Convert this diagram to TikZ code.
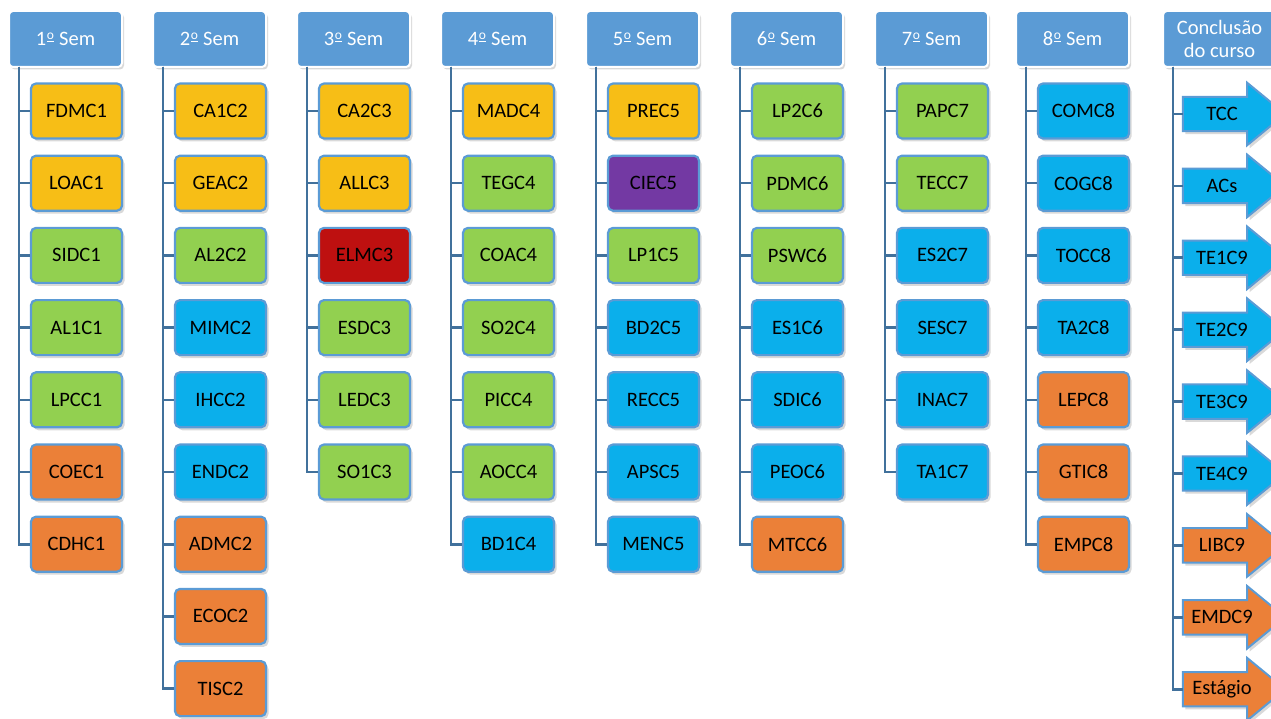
\documentclass[tikz,border=0pt]{standalone}
\usepackage{fontspec}
\setmainfont{Carlito}
\usetikzlibrary{shadows,calc}
\definecolor{hdrblue}{HTML}{5B9BD5}
\definecolor{bordblue}{HTML}{5B9BD5}
\definecolor{connblue}{HTML}{41719C}
\definecolor{cyel}{HTML}{F7BE16}
\definecolor{cgrn}{HTML}{92D050}
\definecolor{cblu}{HTML}{0BAFEB}
\definecolor{cora}{HTML}{EB8038}
\definecolor{cpur}{HTML}{7339A3}
\definecolor{cred}{HTML}{BE1010}
\newcommand\ordm{\hspace{0.6pt}\raisebox{6.2pt}{\fontsize{13.5}{13.5}\selectfont\underline{o}}\hspace{0.6pt}}
\newcommand\semcol[4]{%
  \node[hdr] (h#1) at (#2+56.5,39) {#3};
  \coordinate (t#1) at (#2+10,67);
  \foreach \nm/\st [count=\i from 0] in {#4} {%
    \node[style=\st] (c#1-\i) at (#2+21+46.5,111+72.2*\i) {\nm};
    \draw[conn] (t#1) |- (c#1-\i.west);
  }%
}
\begin{document}
\begin{tikzpicture}[x=1pt,y=-1pt,
  hdr/.style={draw=white, line width=2pt, fill=hdrblue, rounded corners=4pt,
    minimum width=113pt, minimum height=56pt, inner sep=0pt, text=white,
    font=\fontsize{20.5}{23}\selectfont, align=center,
    drop shadow={opacity=0.3,shadow xshift=2pt,shadow yshift=-2.5pt}},
  course/.style={draw=bordblue, line width=2.2pt, rounded corners=5pt,
    minimum width=91pt, minimum height=55pt, inner sep=0pt,
    font=\fontsize{20.5}{24}\selectfont,
    drop shadow={opacity=0.3,shadow xshift=2.5pt,shadow yshift=-3pt}},
  yel/.style={course, fill=cyel},
  grn/.style={course, fill=cgrn},
  blu/.style={course, fill=cblu},
  ora/.style={course, fill=cora},
  pur/.style={course, fill=cpur},
  red/.style={course, fill=cred},
  conn/.style={draw=connblue, line width=2.6pt},
  abody/.style={minimum width=64pt, minimum height=34pt, inner sep=0pt},
  arrowsty/.style={draw=bordblue, line width=2pt,
    drop shadow={opacity=0.3,shadow xshift=2.5pt,shadow yshift=-3pt}},
  ablu/.style={arrowsty, fill=cblu},
  aora/.style={arrowsty, fill=cora},
  alabel/.style={font=\fontsize{20.5}{24}\selectfont, inner sep=0pt}
]
\useasboundingbox (0,0) rectangle (1271,719);
\clip (0,0) rectangle (1271,719);

\semcol{1}{9}{1\ordm{} Sem}{FDMC1/yel,LOAC1/yel,SIDC1/grn,AL1C1/grn,LPCC1/grn,COEC1/ora,CDHC1/ora}
\semcol{2}{153}{2\ordm{} Sem}{CA1C2/yel,GEAC2/yel,AL2C2/grn,MIMC2/blu,IHCC2/blu,ENDC2/blu,ADMC2/ora,ECOC2/ora,TISC2/ora}
\semcol{3}{297}{3\ordm{} Sem}{CA2C3/yel,ALLC3/yel,ELMC3/red,ESDC3/grn,LEDC3/grn,SO1C3/grn}
\semcol{4}{441}{4\ordm{} Sem}{MADC4/yel,TEGC4/grn,COAC4/grn,SO2C4/grn,PICC4/grn,AOCC4/grn,BD1C4/blu}
\semcol{5}{586}{5\ordm{} Sem}{PREC5/yel,CIEC5/pur,LP1C5/grn,BD2C5/blu,RECC5/blu,APSC5/blu,MENC5/blu}
\semcol{6}{730}{6\ordm{} Sem}{LP2C6/grn,PDMC6/grn,PSWC6/grn,ES1C6/blu,SDIC6/blu,PEOC6/blu,MTCC6/ora}
\semcol{7}{875}{7\ordm{} Sem}{PAPC7/grn,TECC7/grn,ES2C7/blu,SESC7/blu,INAC7/blu,TA1C7/blu}
\semcol{8}{1016}{8\ordm{} Sem}{COMC8/blu,COGC8/blu,TOCC8/blu,TA2C8/blu,LEPC8/ora,GTIC8/ora,EMPC8/ora}

\node[hdr] (h9) at (1163+56.5,39) {Conclusão\\do curso};
\coordinate (t9) at (1173,67);
\foreach \nm/\st [count=\i from 0] in {TCC/ablu,ACs/ablu,TE1C9/ablu,TE2C9/ablu,TE3C9/ablu,TE4C9/ablu,LIBC9/aora,EMDC9/aora,Estágio/aora} {
  \node[abody] (a9-\i) at (1215,114+71.9*\i) {};
  \path[style=\st] (a9-\i.north west) -- (a9-\i.north east)
    -- ($(a9-\i.north east)+(0,-14)$) -- ($(a9-\i.east)+(38,0)$)
    -- ($(a9-\i.south east)+(0,14)$) -- (a9-\i.south east)
    -- (a9-\i.south west) -- cycle;
  \node[alabel] (l9-\i) at (1222,114+71.9*\i) {\nm};
  \draw[conn] (t9) |- (a9-\i.west);
}
\end{tikzpicture}
\end{document}
